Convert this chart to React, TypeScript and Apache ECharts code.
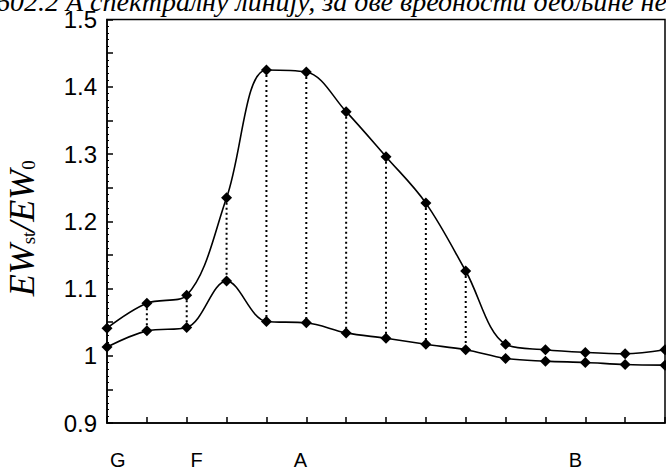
import React, { useEffect, useRef } from "react";
import * as echarts from "echarts";

const xIndex = [0, 1, 2, 3, 4, 5, 6, 7, 8, 9, 10, 11, 12, 13, 14];
const upper = [1.041, 1.078, 1.09, 1.235, 1.425, 1.422, 1.363, 1.296, 1.227, 1.126, 1.017, 1.009, 1.005, 1.003, 1.009];
const lower = [1.013, 1.037, 1.042, 1.111, 1.051, 1.049, 1.034, 1.026, 1.017, 1.009, 0.996, 0.992, 0.99, 0.987, 0.986];
const dropIdx = [1, 2, 3, 4, 5, 6, 7, 8, 9];
const lineLabels = ["G", "F", "A", "B"];
const linePositions = [0.27, 2.25, 4.85, 11.75];
const yTicksMin = 0.9;
const yTicksMax = 1.5;
const titleText = "602.2 А спектралну линију, за две вредности дебљине необојеног";

export default function App() {
  const ref = useRef<HTMLDivElement>(null);
  useEffect(() => {
    document.body.style.margin = "0";
    const chart = echarts.init(ref.current!, null, { renderer: "svg" });
    const sym = { symbol: "diamond", symbolSize: 11 };
    chart.setOption({
      animation: false,
      backgroundColor: "#fff",
      grid: {
        left: 107,
        right: 1,
        top: 19.5,
        bottom: 45,
        containLabel: false,
        outerBoundsMode: "none",
        show: true,
        borderColor: "#000",
        borderWidth: 1.5,
      },
      xAxis: [
        {
          type: "value",
          min: 0,
          max: 14,
          interval: 1,
          axisLine: { show: true, onZero: false, lineStyle: { color: "#000", width: 1.5 } },
          axisTick: { show: true, inside: true, length: 6, lineStyle: { color: "#000", width: 1.5 } },
          axisLabel: { show: false },
          splitLine: { show: false },
        },
        {
          type: "value",
          min: 0,
          max: 14,
          position: "bottom",
          axisLine: { show: false },
          axisTick: { show: false },
          splitLine: { show: false },
          axisLabel: {
            show: true,
            customValues: linePositions,
            margin: 27,
            color: "#000",
            fontFamily: "Liberation Sans, Arial, sans-serif",
            fontSize: 20,
            formatter: (v: number) => {
              const i = linePositions.findIndex((p) => Math.abs(p - v) < 1e-6);
              return i >= 0 ? lineLabels[i] : "";
            },
          },
        },
      ],
      yAxis: {
        type: "value",
        min: yTicksMin,
        max: yTicksMax,
        interval: 0.05,
        name: "{a|EW}{s|st}{a|/EW}{s|0}",
        nameLocation: "middle",
        nameGap: 67,
        nameRotate: 90,
        nameTextStyle: {
          padding: [0, 14, 0, 0],
          rich: {
            a: { fontFamily: "Liberation Serif, Times New Roman, serif", fontStyle: "italic", fontSize: 36, color: "#000" },
            s: { fontFamily: "Liberation Serif, Times New Roman, serif", fontSize: 19, color: "#000", padding: [13, 0, 0, 0] },
          },
        },
        axisLine: { show: true, lineStyle: { color: "#000", width: 1.5 } },
        axisTick: { show: true, inside: true, length: 6, lineStyle: { color: "#000", width: 1.5 } },
        minorTick: { show: true, splitNumber: 5, length: 2, lineStyle: { color: "#000", width: 1 } },
        splitLine: { show: false },
        axisLabel: {
          margin: 10,
          color: "#000",
          fontFamily: "Liberation Sans, Arial, sans-serif",
          fontSize: 24,
          formatter: (v: number) => {
            const t = v * 10;
            return Math.abs(t - Math.round(t)) < 1e-6 ? String(+v.toFixed(1)) : "";
          },
        },
      },
      graphic: [
        {
          type: "text",
          left: -4,
          top: -13,
          style: {
            text: titleText,
            fontFamily: "Liberation Serif, Times New Roman, serif",
            fontStyle: "italic",
            fontSize: 28,
            fill: "#000",
          },
        },
      ],
      series: [
        {
          type: "custom",
          renderItem: (params: any, api: any) => {
            const a = api.coord([api.value(0), api.value(1)]);
            const b = api.coord([api.value(0), api.value(2)]);
            return {
              type: "line",
              shape: { x1: a[0], y1: a[1], x2: b[0], y2: b[1] },
              style: { stroke: "#000", lineWidth: 2, lineDash: [2, 3] },
            };
          },
          data: dropIdx.map((i) => [xIndex[i], upper[i], lower[i]]),
          z: 1,
        },
        {
          type: "line",
          data: xIndex.map((x, i) => [x, upper[i]]),
          smooth: 0.35,
          ...sym,
          itemStyle: { color: "#000" },
          lineStyle: { color: "#000", width: 1.6 },
          z: 3,
        },
        {
          type: "line",
          data: xIndex.map((x, i) => [x, lower[i]]),
          smooth: 0.35,
          ...sym,
          itemStyle: { color: "#000" },
          lineStyle: { color: "#000", width: 1.6 },
          z: 3,
        },
      ],
    });
    return () => chart.dispose();
  }, []);
  return <div ref={ref} style={{ width: 666, height: 468 }} />;
}
